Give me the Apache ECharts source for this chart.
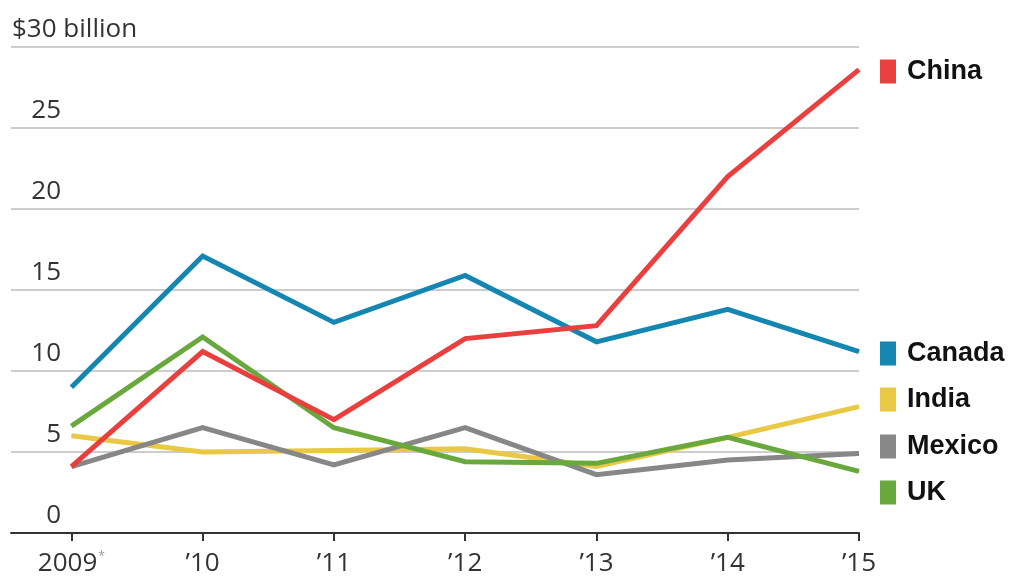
<!DOCTYPE html>
<html>
<head>
<meta charset="utf-8">
<script src="https://cdn.jsdelivr.net/npm/echarts@6/dist/echarts.min.js"></script>
<style>html,body{margin:0;padding:0;background:#fff}#c{width:1009px;height:578px}</style>
</head>
<body>
<div id="c"></div>
<script>
const years = ["2009", "\u201910", "\u201911", "\u201912", "\u201913", "\u201914", "\u201915"];
const yTicks = [0, 5, 10, 15, 20, 25, 30];
const seriesNames = ["China", "Canada", "India", "Mexico", "UK"];
const china  = [4.1, 11.2, 7.0, 12.0, 12.8, 22.0, 28.6];
const canada = [9.0, 17.1, 13.0, 15.9, 11.8, 13.8, 11.2];
const india  = [6.0, 5.0, 5.1, 5.2, 4.1, 5.9, 7.8];
const mexico = [4.1, 6.5, 4.2, 6.5, 3.6, 4.5, 4.9];
const uk     = [6.6, 12.1, 6.5, 4.4, 4.3, 5.9, 3.8];

const colors = {China: "#e9403f", Canada: "#1486b2", India: "#e9c844", Mexico: "#878787", UK: "#69a83d"};
const values = {China: china, Canada: canada, India: india, Mexico: mexico, UK: uk};
const drawOrder = ["India", "Mexico", "Canada", "UK", "China"];
const legendTops = {China: 58, Canada: 340, India: 386, Mexico: 433, UK: 479};

const chart = echarts.init(document.getElementById('c'), null, {renderer: 'canvas'});
const idx = years.map((_, i) => i);

const option = {
  backgroundColor: '#fff',
  animation: false,
  grid: {left: 11, right: 150, top: 47, bottom: 45},
  xAxis: {
    type: 'value', min: -0.46, max: 6,
    splitLine: {show: false},
    axisLine: {show: true, lineStyle: {color: '#333', width: 2}},
    axisTick: {show: true, customValues: idx, length: 8, lineStyle: {color: '#333', width: 2}},
    axisLabel: {
      customValues: idx, margin: 18, color: '#333', fontFamily: 'Open Sans', fontSize: 26,
      formatter: v => v === 0 ? years[0] + '{s|*}' : years[v],
      rich: {s: {fontSize: 12, color: '#999', verticalAlign: 'top', padding: [0, 0, 14, 1], fontFamily: 'Open Sans'}}
    }
  },
  yAxis: {
    type: 'value', min: 0, max: 30, interval: 5,
    axisLine: {show: false}, axisTick: {show: false},
    splitLine: {show: true, lineStyle: {color: '#cdcdcd', width: 2}},
    axisLabel: {
      inside: true, margin: 1, align: 'left', verticalAlign: 'bottom',
      color: '#333', fontFamily: 'Open Sans', fontSize: 26, padding: [0, 0, 4, 0],
      formatter: v => v === 30 ? '{t|$30 billion}' : '{n|' + v + '}',
      rich: {
        n: {width: 49, align: 'right', fontFamily: 'Open Sans', fontSize: 26, color: '#333'},
        t: {fontFamily: 'Open Sans', fontSize: 26, color: '#333'}
      }
    }
  },
  legend: seriesNames.map(n => ({
    data: [n], left: 880, top: legendTops[n], icon: 'rect', itemWidth: 16, itemHeight: 24,
    itemGap: 0, padding: 0, selectedMode: false,
    textStyle: {fontFamily: 'Liberation Sans', fontWeight: 'bold', fontSize: 27, color: '#111', padding: [0, 0, 0, 6]}
  })),
  series: drawOrder.map(n => ({
    name: n, type: 'line', showSymbol: false, symbol: 'none',
    color: colors[n],
    lineStyle: {width: 5, color: colors[n], join: 'miter'},
    data: values[n].map((v, i) => [i, v])
  }))
};
chart.setOption(option);
</script>
</body>
</html>
